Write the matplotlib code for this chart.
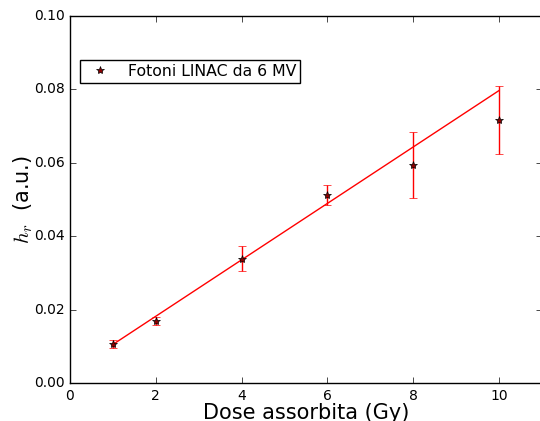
import matplotlib
matplotlib.use('Agg')
import matplotlib.pyplot as plt

# Data
dose = [1, 2, 4, 6, 8, 10]
hr = [0.0106, 0.0169, 0.0338, 0.0512, 0.0595, 0.0717]
hr_err = [0.0010, 0.0012, 0.0034, 0.0027, 0.0090, 0.0093]
fit_x = [1, 10]
fit_y = [0.0105, 0.0797]

plt.style.use('classic')
fig = plt.figure(figsize=(5.4, 4.21), dpi=100, facecolor='white')
ax = fig.add_axes([70 / 540, 38 / 421, 472 / 540, 367 / 421])

ax.plot(fit_x, fit_y, color='red', lw=1)
ax.errorbar(dose, hr, yerr=hr_err, fmt='none', ecolor='red', capsize=3)
ax.plot(dose, hr, '*', mfc='#8b0000', mec='black', mew=0.5, ms=6,
        label='Fotoni LINAC da 6 MV')

ax.set_xlim(0, 11)
ax.set_ylim(0, 0.1)
ax.set_xticks([0, 2, 4, 6, 8, 10])
ax.set_yticks([0, 0.02, 0.04, 0.06, 0.08, 0.1])
ax.set_yticklabels(['0.00', '0.02', '0.04', '0.06', '0.08', '0.10'])
ax.tick_params(labelsize=10)
ax.set_xlabel('Dose assorbita (Gy)', fontsize=15, labelpad=0)
ax.set_ylabel('$h_r$  (a.u.)', fontsize=15, labelpad=-1)

ax.legend(loc='upper left', bbox_to_anchor=(0.021, 0.88), numpoints=1,
          fontsize=11.3, fancybox=False, borderaxespad=0, borderpad=0.25)

fig.savefig('out.png', dpi=100, facecolor='white')
